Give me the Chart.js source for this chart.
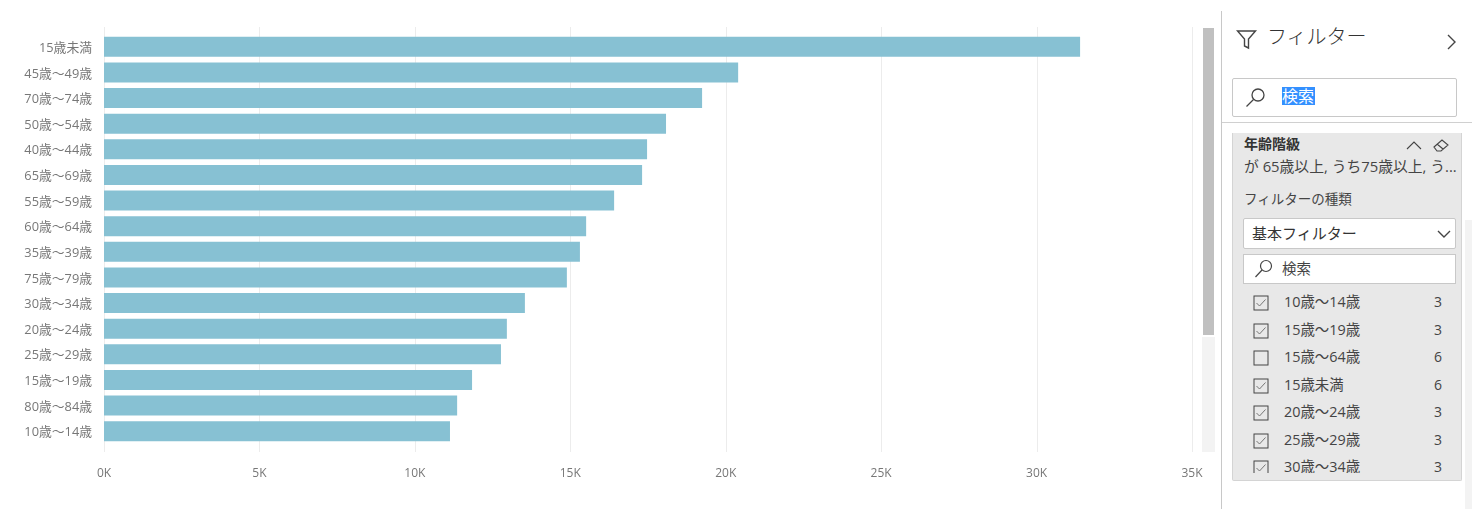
<!DOCTYPE html>
<html lang="ja">
<head>
<meta charset="utf-8">
<title>年齢階級</title>
<script src="https://cdn.jsdelivr.net/npm/chart.js@4/dist/chart.umd.min.js"></script>
<style>
html, body { margin: 0; padding: 0; background: #fff; overflow: hidden; }
body { width: 1475px; height: 509px; position: relative; font-family: "Open Sans", "Noto Sans CJK JP", sans-serif; color: #333; }
#chart { position: absolute; left: 0; top: 0; }
.box { position: absolute; box-sizing: border-box; }
.txt { position: absolute; white-space: nowrap; line-height: 1; }
svg { position: absolute; fill: none; stroke: #444; }
</style>
</head>
<body>
<canvas id="chart" width="1220" height="509"></canvas>

<!-- chart scrollbar -->
<div class="box" style="left:1203px;top:28px;width:11px;height:307px;background:#c0c0c0"></div>
<div class="box" style="left:1202px;top:337px;width:13px;height:115px;background:#f3f3f3"></div>

<!-- filter pane frame -->
<div class="box" style="left:1221px;top:11px;width:1px;height:498px;background:#c8c8c8"></div>
<div class="box" style="left:1222px;top:122px;width:250px;height:1px;background:#d0d0d0"></div>
<div class="box" style="left:1465px;top:220px;width:7px;height:289px;background:#f3f3f3"></div>

<svg style="left:1236px;top:29px" width="22" height="21" stroke-width="1.4"><path d="M1.5 2h18l-7 8v9l-4-2v-7z"/></svg>
<div class="txt" style="left:1267px;top:27px;font-size:20px;font-weight:300;color:#333">フィルター</div>
<svg style="left:1446px;top:33px" width="12" height="18" stroke-width="1.4"><path d="M2 2l7 7-7 7"/></svg>

<div class="box" style="left:1232px;top:78px;width:225px;height:39px;background:#fff;border:1px solid #c8c8c8;border-radius:2px"></div>
<svg style="left:1245px;top:87px" width="22" height="21" stroke-width="1.3"><circle cx="13" cy="8" r="6"/><path d="M8.5 12.5L1.5 19.5"/></svg>
<div class="txt" style="left:1282px;top:87px;width:33px;height:18px;background:#3390ff;color:#fff;font-size:16px;line-height:18px">検索</div>

<div class="box" style="left:1232px;top:133px;width:230px;height:348px;background:#e8e8e8;border:1px solid #d4d4d4;border-top:0;border-radius:0 0 2px 2px"></div>
<div class="txt" style="left:1244px;top:137px;font-size:14px;font-weight:700;color:#333">年齢階級</div>
<svg style="left:1405px;top:139px" width="18" height="12" stroke-width="1.1"><path d="M2 10l7-7 7 7"/></svg>
<svg style="left:1432px;top:138px" width="18" height="15" stroke-width="1.1"><path d="M2 9l8-7 6 5-7 6H5z M5 6l6 5"/></svg>
<div class="txt" style="left:1244px;top:159px;font-size:14.8px;color:#444">が 65歳以上, うち75歳以上, う...</div>
<div class="txt" style="left:1244px;top:193px;font-size:13.5px;color:#444">フィルターの種類</div>

<div class="box" style="left:1243px;top:218px;width:213px;height:31px;background:#fff;border:1px solid #c8c8c8;border-radius:2px"></div>
<div class="txt" style="left:1252px;top:226px;font-size:15px;color:#333">基本フィルター</div>
<svg style="left:1436px;top:228px" width="16" height="12" stroke-width="1.4"><path d="M2 3l6 6 6-6"/></svg>

<div class="box" style="left:1243px;top:254px;width:213px;height:30px;background:#fff;border:1px solid #c8c8c8"></div>
<svg style="left:1254px;top:259px" width="20" height="20" stroke-width="1.2"><circle cx="12" cy="7" r="5.5"/><path d="M8 11L1.5 18"/></svg>
<div class="txt" style="left:1282px;top:262px;font-size:14.5px;color:#444">検索</div>

<div id="filterList" class="box" style="left:1233px;top:289px;width:228px;height:184px;overflow:hidden"></div>

<script>
// chart values
const ageLabels = ['15歳未満', '45歳～49歳', '70歳～74歳', '50歳～54歳', '40歳～44歳', '65歳～69歳', '55歳～59歳', '60歳～64歳',
    '35歳～39歳', '75歳～79歳', '30歳～34歳', '20歳～24歳', '25歳～29歳', '15歳～19歳', '80歳～84歳', '10歳～14歳'];
const ageValues = [31400, 20400, 19240, 18080, 17470, 17310, 16410, 15510,
    15310, 14890, 13540, 12960, 12770, 11840, 11360, 11130];
const tickValues = [0, 5000, 10000, 15000, 20000, 25000, 30000, 35000];

// filter pane list
const filterNames = ['10歳～14歳', '15歳～19歳', '15歳～64歳', '15歳未満', '20歳～24歳', '25歳～29歳', '30歳～34歳'];
const filterCounts = [3, 3, 6, 6, 3, 3, 3];
const filterChecked = [true, true, false, true, true, true, true];

const listBox = document.getElementById('filterList');
filterNames.forEach((name, i) => {
    const top = i * 27.5;
    const mark = filterChecked[i] ? '<path d="M3.5 8l3 3 6-6.5" stroke="#777" stroke-width="1"/>' : '';
    listBox.innerHTML +=
        `<svg style="left:20px;top:${top + 6}px" width="16" height="16"><rect x="1" y="1" width="14" height="14" stroke="#444" stroke-width="1"/>${mark}</svg>` +
        `<div class="txt" style="left:51px;top:${top + 6}px;font-size:14.4px;color:#444">${name}</div>` +
        `<div class="txt" style="left:201px;top:${top + 6}px;font-size:14px;color:#444">${filterCounts[i]}</div>`;
});

// gridlines run a bit above and below the bars, so they are drawn here instead of by the axis
const tallGrid = {
    id: 'tallGrid',
    beforeDatasetsDraw(chart) {
        const ctx = chart.ctx;
        const x = chart.scales.x;
        ctx.save();
        ctx.strokeStyle = '#ececec';
        ctx.lineWidth = 1;
        tickValues.forEach(v => {
            const px = Math.round(x.getPixelForValue(v)) + 0.5;
            ctx.beginPath();
            ctx.moveTo(px, 27);
            ctx.lineTo(px, 452);
            ctx.stroke();
        });
        ctx.restore();
    }
};

new Chart(document.getElementById('chart').getContext('2d'), {
    type: 'bar',
    data: {
        labels: ageLabels,
        datasets: [{
            data: ageValues,
            backgroundColor: '#87c1d3',
            barPercentage: 0.78,
            categoryPercentage: 1
        }]
    },
    options: {
        indexAxis: 'y',
        responsive: false,
        animation: false,
        layout: { padding: { top: 34, right: 28 } },
        plugins: { legend: { display: false }, tooltip: { enabled: false } },
        scales: {
            x: {
                min: 0,
                max: 35000,
                afterBuildTicks(axis) { axis.ticks = tickValues.map(v => ({ value: v })); },
                afterFit(axis) { axis.height = 65; },
                grid: { display: false },
                border: { display: false },
                ticks: {
                    maxRotation: 0,
                    padding: 14,
                    color: '#777',
                    font: { family: '"Open Sans", "Noto Sans CJK JP"', size: 12 },
                    callback: v => (v / 1000) + 'K'
                }
            },
            y: {
                afterFit(axis) { axis.width = 104; },
                grid: { display: false },
                border: { display: false },
                ticks: {
                    padding: 4,
                    labelOffset: 1.5,
                    autoSkip: false,
                    color: '#777',
                    font: { family: '"Open Sans", "Noto Sans CJK JP"', size: 12.8 }
                }
            }
        }
    },
    plugins: [tallGrid]
});
</script>
</body>
</html>
